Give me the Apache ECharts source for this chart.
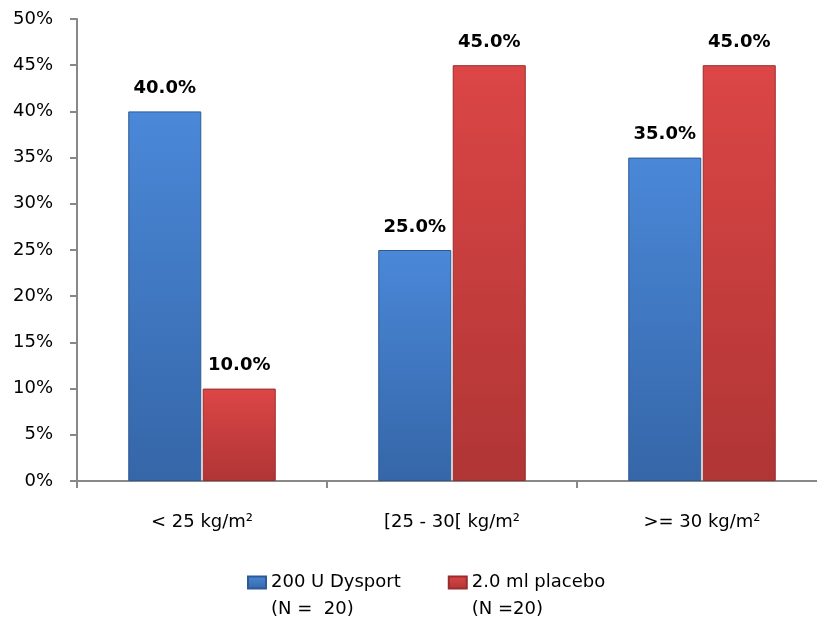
<!DOCTYPE html>
<html><head><meta charset="utf-8">
<script src="https://cdn.jsdelivr.net/npm/echarts@6/dist/echarts.min.js"></script>
<style>html,body{margin:0;padding:0;background:#fff}#c{width:817px;height:622px}</style>
</head><body><div id="c"></div>
<script>
const categories = ['< 25 kg/m²', '[25 - 30[ kg/m²', '>= 30 kg/m²'];
const seriesNames = ['200 U Dysport\n(N =  20)', '2.0 ml placebo\n(N =20)'];
const dysport = [40.0, 25.0, 35.0];
const placebo = [10.0, 45.0, 45.0];
const yTicks = [0, 5, 10, 15, 20, 25, 30, 35, 40, 45, 50];

const FONT = '"DejaVu Sans", sans-serif';
function vgrad(top, bottom) {
  return new echarts.graphic.LinearGradient(0, 0, 0, 1, [
    {offset: 0, color: top}, {offset: 1, color: bottom}
  ]);
}
const chart = echarts.init(document.getElementById('c'));
chart.setOption({
  animation: false,
  grid: {left: 77, width: 750, top: 19, bottom: 141, outerBoundsMode: 'none', containLabel: false},
  legend: {
    top: 542, left: 247, padding: 0, itemWidth: 18, itemHeight: 12, itemGap: 47,
    icon: 'rect',
    formatter: name => '\n' + name,
    textStyle: {fontFamily: FONT, fontSize: 18, color: '#000', lineHeight: 27},
    data: seriesNames
  },
  xAxis: {
    type: 'category', data: categories,
    axisLine: {lineStyle: {color: '#888', width: 2}},
    axisTick: {show: true, length: 7, lineStyle: {color: '#888', width: 2}},
    axisLabel: {fontFamily: FONT, fontSize: 18, color: '#000', margin: 32}
  },
  yAxis: {
    type: 'value', min: 0, max: 50, interval: 5,
    axisLine: {show: true, lineStyle: {color: '#888', width: 2}},
    axisTick: {show: true, length: 7, lineStyle: {color: '#888', width: 2}},
    splitLine: {show: false},
    axisLabel: {fontFamily: FONT, fontSize: 18, color: '#000', margin: 24,
      formatter: v => v + '%'}
  },
  series: [
    {name: seriesNames[0], type: 'bar', data: dysport, barGap: '2%', barCategoryGap: '41%',
     itemStyle: {color: vgrad('#4a88d8', '#3566a8'), borderColor: '#2c5a96', borderWidth: 1},
     label: {show: true, position: 'top', distance: 14, fontFamily: FONT, fontSize: 18, fontWeight: 'bold', color: '#000',
       formatter: p => p.value.toFixed(1) + '%'}},
    {name: seriesNames[1], type: 'bar', data: placebo,
     itemStyle: {color: vgrad('#dc4646', '#b03535'), borderColor: '#9a2c2c', borderWidth: 1},
     label: {show: true, position: 'top', distance: 14, fontFamily: FONT, fontSize: 18, fontWeight: 'bold', color: '#000',
       formatter: p => p.value.toFixed(1) + '%'}}
  ]
});
</script></body></html>
